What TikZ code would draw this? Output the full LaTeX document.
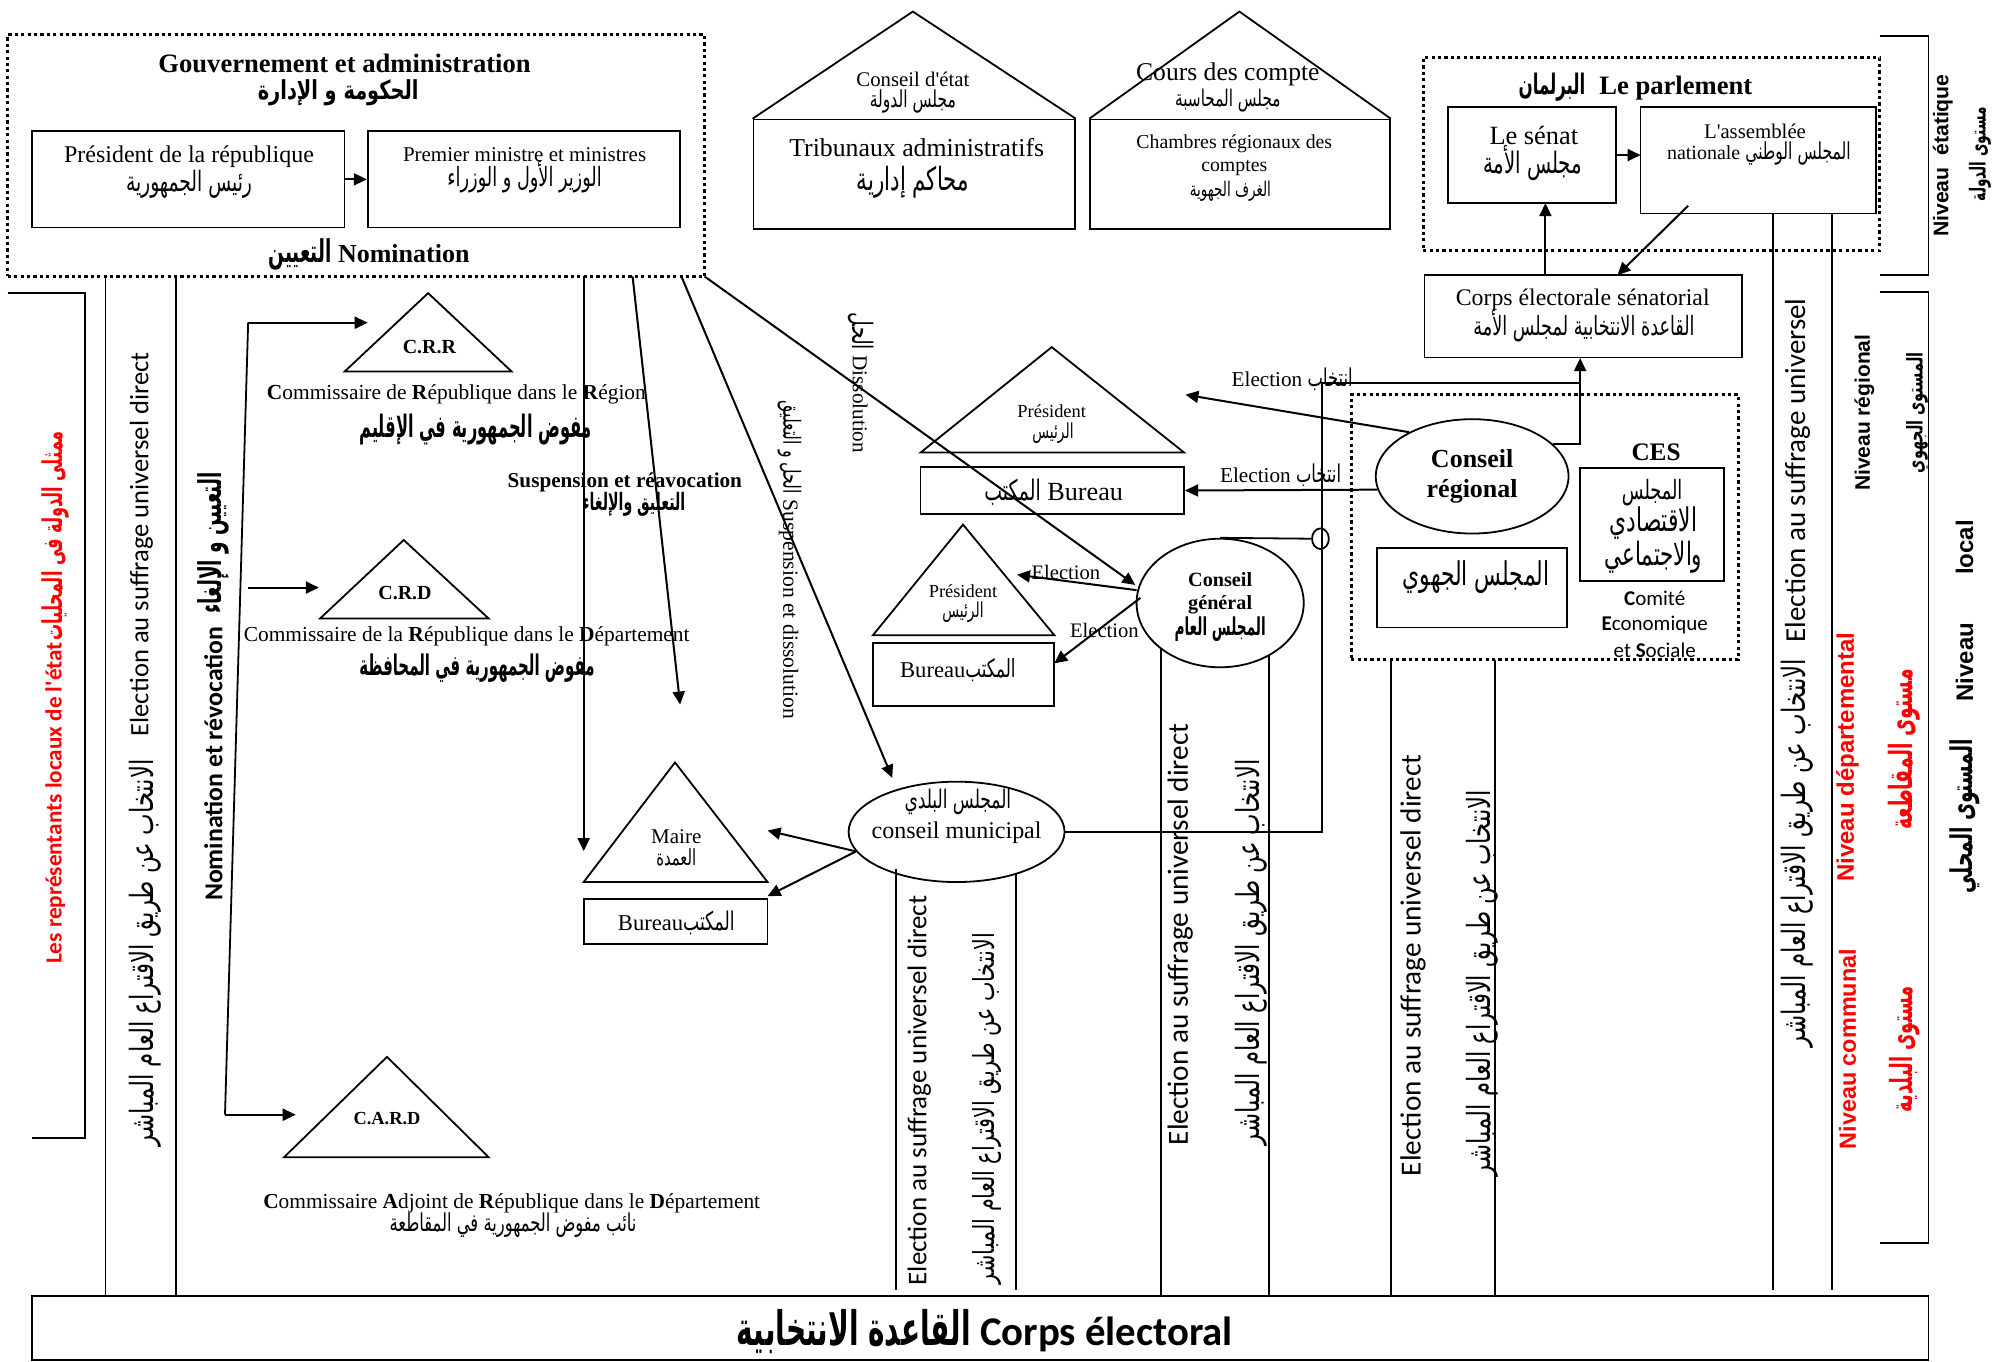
\documentclass[tikz,border=0pt]{standalone}
\usepackage{fontspec}
\usepackage{graphicx}
\usetikzlibrary{arrows.meta,shapes.geometric,fit}
\setmainfont{Liberation Serif}
\newfontfamily\arabicfont[Script=Arabic]{DejaVu Sans}
\newfontfamily\calfont{Carlito}
\newfontfamily\arialfont{Liberation Sans}
\TeXXeTstate=1
\newdimen\pxu \pxu=0.643pt
% Arabic text set to a given width (in picture units), optionally stretched vertically
\newcommand\AR[3][1.4]{\scalebox{1}[#1]{\resizebox{#2\pxu}{!}{\arabicfont #3}}}
\newcommand\ARB[3][1.6]{\scalebox{1}[#1]{\resizebox{#2\pxu}{!}{\arabicfont\bfseries #3}}}
\newcommand\fs[1]{\fontsize{#1pt}{#1pt}\selectfont}
% straight apostrophe glyph
\newcommand\apos{\XeTeXglyph\XeTeXcharglyph"0027\relax}

\tikzset{
  box/.style={draw, line width=0.9pt, inner sep=0pt},
  dotbox/.style={draw, line width=1.6pt, dash pattern=on 1.6pt off 1.6pt, inner sep=0pt},
  arr/.style={-{Triangle[length=6.5pt,width=6pt]}, line width=1pt},
  ln/.style={line width=0.9pt},
  oval/.style={draw, ellipse, line width=0.9pt, inner sep=0pt},
  vup/.style={rotate=90, anchor=west},
  vdown/.style={rotate=-90, anchor=west},
  elec/.style={rotate=90, anchor=west, font=\calfont\fs{#1}},
}

\begin{document}
\begin{tikzpicture}[x=0.643pt, y=-0.643pt, every node/.style={inner sep=0pt}]
\useasboundingbox (0,0) rectangle (1568,1059);

% ---------- Government and administration ----------
\node[dotbox, fit={(6,27) (548,215)}] (gov) {};
\node[font=\bfseries\fs{13.3}] (govT) at (268,49) {Gouvernement et administration};
\node (govA) at (263,72) {\ARB[1.35]{125}{\beginR الحكومة و الإدارة\endR}};
\node[box, fit={(25,102) (268,177)}] (pres) {};
\node[box, fit={(286,102) (529,177)}] (prem) {};
\draw[arr] (pres) -- (prem);
\node[font=\fs{12}] (presT) at (147,122) {Président de la république};
\node (presA) at (147,143) {\AR[1.5]{98}{\beginR رئيس الجمهورية\endR}};
\node[font=\fs{10.5}] (premT) at (408,120.5) {Premier ministre et ministres};
\node (premA) at (408,138) {\AR[1.5]{120}{\beginR الوزير الأول و الوزراء\endR}};
\node[font=\bfseries\fs{13}] (nomT) at (287,198) {\ARB[1.7]{49}{\beginR التعيين\endR} Nomination};

% ---------- Administrative courts ----------
\node[box, fit={(586,93) (836,178)}] (ce) {};
\coordinate (ceTop) at (710,9);
\draw[ln] (ce.north west) -- (ceTop) -- (ce.north east);
\node[font=\fs{10.4}] (ceT1) at (710,62) {Conseil d\apos état};
\node (ceA1) at (710,79) {\AR[1.5]{67}{\beginR مجلس الدولة\endR}};
\node[font=\fs{12.9}] (ceT2) at (713,115) {Tribunaux administratifs};
\node (ceA2) at (710,141.5) {\AR[1.5]{87}{\beginR محاكم إدارية\endR}};

% ---------- Audit courts ----------
\node[box, fit={(848,93) (1081,178)}] (cc) {};
\coordinate (ccTop) at (964,9);
\draw[ln] (cc.north west) -- (ccTop) -- (cc.north east);
\node[font=\fs{12.8}] (ccT1) at (955,58) {Cours des compte};
\node (ccA1) at (955,78) {\AR[1.5]{82}{\beginR مجلس المحاسبة\endR}};
\node[font=\fs{9.9}] (ccT2) at (960,112) {Chambres régionaux des};
\node[font=\fs{9.9}] (ccT3) at (960,131) {comptes};
\node (ccA2) at (957,149) {\AR[1.5]{63}{\beginR الغرف الجهوية\endR}};

% ---------- Parliament ----------
\node[dotbox, fit={(1107,45) (1462,195)}] (parl) {};
\node[font=\bfseries\fs{13.3}] (parlT) at (1272,67.5) {\ARB[1.7]{52}{\beginR البرلمان\endR}\hspace{7pt}Le parlement};
\node[box, fit={(1126,83) (1257,158)}] (senat) {};
\node[box, fit={(1276,83) (1459,166)}] (ass) {};
\node[font=\fs{13.2}] (senT) at (1193,105) {Le sénat};
\node (senA) at (1192,127) {\AR[1.5]{77}{\beginR مجلس الأمة\endR}};
\node[font=\fs{10.4}] (assT) at (1365,102.5) {L\apos assemblée};
\node[font=\fs{10}] (assT2) at (1368,119) {nationale \AR[1.5]{82}{\beginR المجلس الوطني\endR}};
\coordinate (senE) at (1257,120.6);
\coordinate (assW) at (1276,120.6);
\draw[arr] (senE) -- (assW);
\node[box, fit={(1108,214) (1355,278)}] (corps) {};
\node[font=\fs{11.9}] (corpsT) at (1231,233) {Corps électorale sénatorial};
\node (corpsA) at (1232,254) {\AR[1.5]{172}{\beginR القاعدة الانتخابية لمجلس الأمة\endR}};
\coordinate (assOut) at (1313,160);
\coordinate (corpsIn) at (1258,214);
\draw[arr] (assOut) -- (corpsIn);
\coordinate (corpsOut) at (1202,214);
\coordinate (senIn) at (1202,158);
\draw[arr] (corpsOut) -- (senIn);

% ---------- Level brackets on the right ----------
\draw[ln] (1462,28) -- (1500,28) -- (1500,214) -- (1462,214);
\draw[ln] (1462,227) -- (1500,227) -- (1500,967) -- (1462,967);
\node[rotate=90, font=\arialfont\bfseries\fs{10.6}] (nivE) at (1511,121) {Niveau\ \ étatique};
\node[rotate=90] (nivEA) at (1540,120) {\ARB{73}{\beginR مستوى الدولة\endR}};
\node[rotate=90, font=\arialfont\bfseries\fs{10.5}] (nivR) at (1450,321) {Niveau régional};
\node[rotate=90] (nivRA) at (1491,321) {\ARB[1.5]{94}{\beginR المستوى الجهوي\endR}};
\node[rotate=90, font=\arialfont\bfseries\fs{12}] (nivL) at (1528,475) {Niveau\hspace{24pt}local};
\node[rotate=90] (nivLA) at (1528,635) {\ARB{120}{\beginR المستوى المحلي\endR}};
\node[rotate=90, text=red, font=\arialfont\bfseries\fs{12}] (nivD) at (1437,589) {Niveau départemental};
\node[rotate=90, text=red] (nivDA) at (1481,583) {\ARB[1.7]{125}{\beginR مستوى المقاطعة\endR}};
\node[rotate=90, text=red, font=\arialfont\bfseries\fs{11.7}] (nivC) at (1437,816) {Niveau communal};
\node[rotate=90, text=red] (nivCA) at (1481,816) {\ARB[1.7]{98}{\beginR مستوى البلدية\endR}};

% ---------- Direct universal suffrage for the National Assembly ----------
\draw[ln] (1379,166) -- (1379,1003);
\draw[ln] (1425,166) -- (1425,1003);
\node[elec=14.5] (elAss) at (1398,500) {Election au suffrage universel};
\node[vup] (elAssA) at (1398,815) {\AR{302}{\beginR الانتخاب عن طريق الاقتراع العام المباشر\endR}};

% ---------- Left: state representatives ----------
\draw[ln] (6,228) -- (66,228) -- (66,885) -- (25,885);
\node[vup, text=red, font=\calfont\bfseries\fs{11.6}] (repT) at (43,750) {Les représentants locaux de l\apos état};
\node[rotate=90, anchor=east, text=red] (repA) at (43,335) {\ARB[1.7]{163}{\beginR ممثلى الدولة فى المحليات\endR}};
\draw[ln] (82,215) -- (82,1008);
\draw[ln] (137,215) -- (137,1008);
\node[elec=13.3] (elLeft) at (110,573) {Election au suffrage universel direct};
\node[vup] (elLeftA) at (113,892) {\AR{301}{\beginR الانتخاب عن طريق الاقتراع العام المباشر\endR}};
\node[vup, font=\calfont\bfseries\fs{12.9}] (nrT) at (166,701) {Nomination et révocation};
\node[rotate=90, anchor=east] (nrA) at (166,367) {\ARB[1.7]{110}{\beginR التعيين و الإلغاء\endR}};

% ---------- Commissioners ----------
\coordinate (crrTop) at (333,228);
\coordinate (crrL) at (268,289);
\coordinate (crrR) at (398,289);
\draw[ln] (crrTop) -- (crrL) -- (crrR) -- cycle;
\coordinate (crdTop) at (314,420);
\coordinate (crdL) at (249,481);
\coordinate (crdR) at (380,481);
\draw[ln] (crdTop) -- (crdL) -- (crdR) -- cycle;
\coordinate (cardTop) at (301,822);
\coordinate (cardL) at (221,900);
\coordinate (cardR) at (380,900);
\draw[ln] (cardTop) -- (cardL) -- (cardR) -- cycle;
\node[font=\bfseries\fs{10}] (crrT) at (334,270) {C.R.R};
\node[font=\fs{10.7}] (crrT2) at (355,307) {\textbf{C}ommissaire de \textbf{R}épublique dans le \textbf{R}égion};
\node (crrA) at (370,334) {\ARB[1.9]{181}{\beginR مفوض الجمهورية في الإقليم\endR}};
\node[font=\bfseries\fs{10}] (crdT) at (315,461) {C.R.D};
\node[font=\fs{10.7}] (crdT2) at (363,495) {Commissaire de la \textbf{R}épublique dans le \textbf{D}épartement};
\node (crdA) at (371,520) {\ARB[1.9]{183}{\beginR مفوض الجمهورية في المحافظة\endR}};
\node[font=\bfseries\fs{9.2}] (cardT) at (301,870) {C.A.R.D};
\node[font=\fs{10.7}] (cardT2) at (398,936) {\textbf{C}ommissaire \textbf{A}djoint de \textbf{R}épublique dans le \textbf{D}épartement};
\node (cardA) at (399,953) {\AR[1.5]{192}{\beginR نائب مفوض الجمهورية في المقاطعة\endR}};

% nomination arrows
\coordinate (nA) at (193,251);
\coordinate (nB) at (175,867);
\coordinate (nCrr) at (286,251);
\coordinate (nCard) at (230,867);
\coordinate (nD) at (193,457);
\coordinate (nCrd) at (248,457);
\draw[arr] (nA) -- (nCrr);
\draw[ln] (nA) -- (nB);
\draw[arr] (nB) -- (nCard);
\draw[arr] (nD) -- (nCrd);

% ---------- Supervision arrows from the government ----------
\coordinate (g1) at (454,215);
\coordinate (g1e) at (454,662);
\coordinate (g2) at (492,215);
\coordinate (g2e) at (529,548);
\coordinate (g3) at (530,215);
\coordinate (g3e) at (694,605);
\coordinate (g4) at (548,215);
\coordinate (g4e) at (883,455);
\draw[arr] (g1) -- (g1e);
\draw[arr] (g2) -- (g2e);
\draw[arr] (g3) -- (g3e);
\draw[arr] (g4) -- (g4e);
\node[font=\bfseries\fs{10.6}] (susT) at (486,375) {Suspension et réavocation};
\node (susA) at (493,392) {\ARB[1.7]{80}{\beginR التعليق والإلغاء\endR}};
\node[vdown, font=\fs{10.6}] (disT) at (670,243) {\AR[1.5]{29}{\beginR الحل\endR} Dissolution};
\node[vdown, font=\fs{10.8}] (sdT) at (614,311) {\AR[1.5]{73}{\beginR الحل و التعليق\endR} Suspension et dissolution};

% ---------- Regional council ----------
\node[dotbox, fit={(1051,307) (1352,513)}] (ces) {};
\node[oval, minimum width=96.4pt, minimum height=57.2pt] (cr) at (1145,370.5) {};
\node[font=\bfseries\fs{13}] (crT1) at (1145,357) {Conseil};
\node[font=\bfseries\fs{13}] (crT2) at (1145,382) {régional};
\node[box, fit={(1071,426) (1219,488)}] (crj) {};
\node (crjA) at (1148,449) {\AR[1.5]{114}{\beginR المجلس الجهوي\endR}};
\node[font=\bfseries\fs{12.6}] (cesT) at (1288,352) {CES};
\node[box, fit={(1229,364) (1341,452)}] (cesb) {};
\node (cesA1) at (1285,383) {\AR[1.5]{47}{\beginR المجلس\endR}};
\node (cesA2) at (1286,407) {\AR[1.5]{68}{\beginR الاقتصادي\endR}};
\node (cesA3) at (1286,433) {\AR[1.5]{76}{\beginR والاجتماعي\endR}};
\node[font=\calfont\fs{10.5}] (cesT1) at (1287,465) {\textbf{C}omité};
\node[font=\calfont\fs{10.5}] (cesT2) at (1287,486) {\textbf{E}conomique};
\node[font=\calfont\fs{10.5}] (cesT3) at (1287,506) {et \textbf{S}ociale};

% regional president and bureau
\coordinate (p1Top) at (818,270);
\coordinate (p1L) at (716,352);
\coordinate (p1R) at (921,352);
\draw[ln] (p1Top) -- (p1L) -- (p1R) -- cycle;
\node[font=\fs{9.2}] (p1T) at (818,320) {Président};
\node (p1A) at (819,337) {\AR[1.5]{32}{\beginR الرئيس\endR}};
\node[box, fit={(716,363) (921,400)}] (bur1) {};
\node[font=\fs{13.1}] (bur1T) at (819.5,383) {\AR[1.5]{44}{\beginR المكتب\endR} Bureau};
\coordinate (p1In) at (922,307);
\draw[arr] (cr.145) -- (p1In);
\draw[arr] (cr.188) -- (bur1.east);
\node[font=\fs{10.6}] (el1) at (1005,295) {Election \AR[1.5]{35}{\beginR انتخاب\endR}};
\node[font=\fs{10.6}] (el2) at (996,369.5) {Election \AR[1.5]{35}{\beginR انتخاب\endR}};

% ---------- General council ----------
\node[oval, minimum width=83.6pt, minimum height=64.3pt] (cg) at (949,469) {};
\node[font=\bfseries\fs{10.1}] (cgT1) at (949,451) {Conseil};
\node[font=\bfseries\fs{10.1}] (cgT2) at (949,470) {général};
\node (cgA) at (949,489) {\ARB[1.8]{71}{\beginR المجلس العام\endR}};
\coordinate (p2Top) at (749,408);
\coordinate (p2L) at (679,494);
\coordinate (p2R) at (820,494);
\draw[ln] (p2Top) -- (p2L) -- (p2R) -- cycle;
\node[font=\fs{9.2}] (p2T) at (749,460) {Président};
\node (p2A) at (749,476) {\AR[1.5]{32}{\beginR الرئيس\endR}};
\node[box, fit={(679,500) (820,549)}] (bur2) {};
\node[font=\fs{11.3}] (bur2T) at (745,521) {Bureau\AR[1.5]{39}{\beginR المكتب\endR}};
\coordinate (cgO1) at (884,459);
\coordinate (p2In) at (791,447);
\coordinate (cgO2) at (887,465);
\coordinate (bur2In) at (820,516);
\draw[arr] (cgO1) -- (p2In);
\draw[arr] (cgO2) -- (bur2In);
\node[font=\fs{10.3}] (el3) at (829,445) {Election};
\node[font=\fs{10.3}] (el4) at (859,490) {Election};

% ---------- Municipal council ----------
\node[oval, minimum width=108pt, minimum height=50.2pt] (cm) at (744,647) {};
\node (cmA) at (745,624) {\AR[1.5]{83}{\beginR المجلس البلدي\endR}};
\node[font=\fs{12}] (cmT) at (744,648) {conseil municipal};
\coordinate (mTop) at (525,593);
\coordinate (mL) at (454,686);
\coordinate (mR) at (597,686);
\draw[ln] (mTop) -- (mL) -- (mR) -- cycle;
\node[font=\fs{10.5}] (mT) at (526,651) {Maire};
\node (mA) at (526,667) {\AR[1.5]{31}{\beginR العمدة\endR}};
\node[box, fit={(454,699) (597,734)}] (bur3) {};
\node[font=\fs{11.3}] (bur3T) at (526,718) {Bureau\AR[1.5]{40}{\beginR المكتب\endR}};
\coordinate (mIn) at (597,646);
\coordinate (bur3In) at (597,697);
\draw[arr] (cm.191) -- (mIn);
\draw[arr] (cm.191) -- (bur3In);

% ---------- Senatorial electoral college feed ----------
\coordinate (t1) at (1028,298);
\coordinate (t2) at (1028,647);
\coordinate (t3) at (1229,298);
\coordinate (up) at (1229,278.5);
\draw[ln] (cm.east) -- (t2) -- (t1) -- (t3);
\draw[arr] (cr.22) -| (up);
\node[draw, ellipse, line width=0.9pt, minimum width=8.4pt, minimum height=10.3pt] (jn) at (1027,419) {};
\draw[ln] (cg.north) -- (jn.west);

% ---------- Direct elections of the councils ----------
\draw[ln] (697,676) -- (697,1003);
\draw[ln] (790,679) -- (790,1003);
\node[elec=13.5] (elCm) at (715,1000) {Election au suffrage universel direct};
\node[vup] (elCmA) at (768,999) {\AR{273}{\beginR الانتخاب عن طريق الاقتراع العام المباشر\endR}};
\draw[ln] (903,504) -- (903,1008);
\draw[ln] (987,510) -- (987,1008);
\node[elec=14.6] (elCg) at (918,891) {Election au suffrage universel direct};
\node[vup] (elCgA) at (973,891) {\AR{300}{\beginR الانتخاب عن طريق الاقتراع العام المباشر\endR}};
\draw[ln] (1082,513) -- (1082,1008);
\draw[ln] (1163,513) -- (1163,1008);
\node[elec=14.6] (elCr) at (1099,915) {Election au suffrage universel direct};
\node[vup] (elCrA) at (1153,915) {\AR{300}{\beginR الانتخاب عن طريق الاقتراع العام المباشر\endR}};

% ---------- Electorate ----------
\node[box, fit={(25,1008) (1500,1058)}] (base) {};
\node[font=\calfont\bfseries\fs{20.4}] (baseT) at (766,1036) {\ARB[1.7]{182}{\beginR القاعدة الانتخابية\endR} Corps électoral};

\end{tikzpicture}
\end{document}
